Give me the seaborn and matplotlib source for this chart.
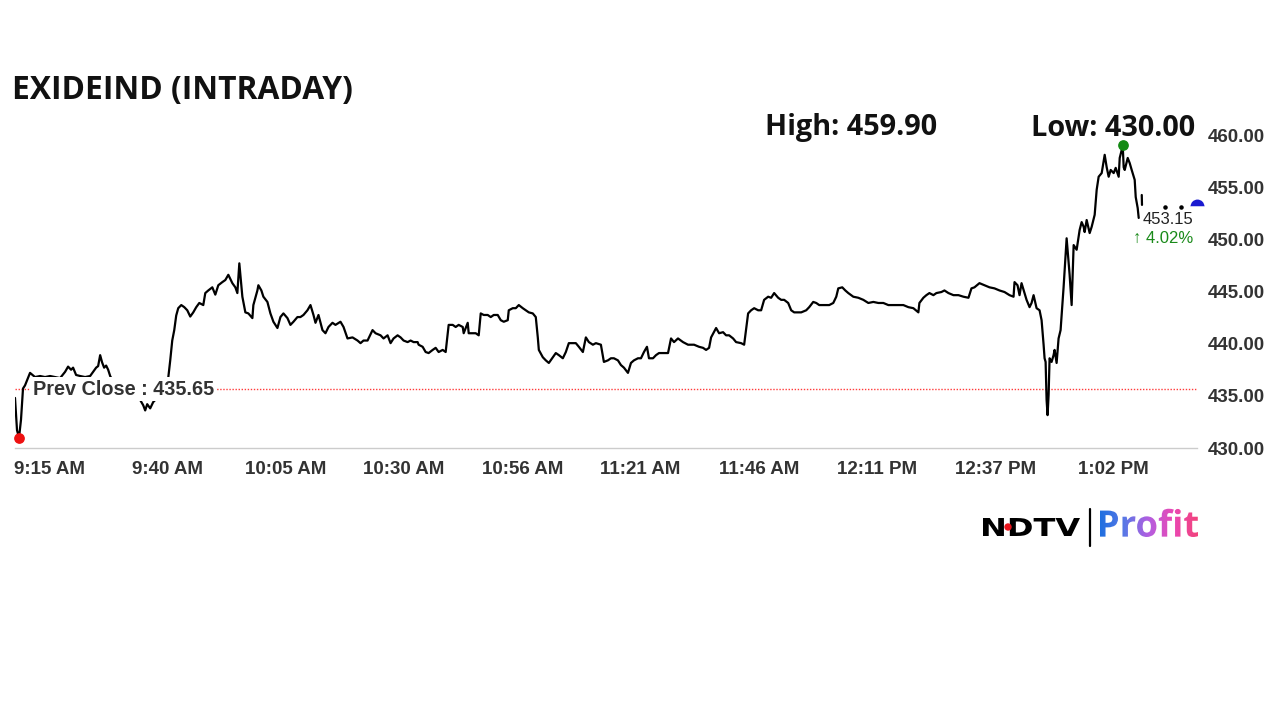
"""Intraday price chart of EXIDEIND, in the NDTV Profit style
"""

import matplotlib
matplotlib.use("Agg")
import matplotlib.pyplot as plt
from matplotlib.colors import LinearSegmentedColormap
from matplotlib.font_manager import FontProperties
from matplotlib.patches import PathPatch, Circle
from matplotlib.textpath import TextPath
from matplotlib.transforms import Affine2D
import numpy as np
import pandas as pd
import seaborn as sns

# minutes after 9:15 AM and traded price
minutes = [
    0.00, 0.43, 0.86, 1.28, 1.71, 2.14, 3.21, 4.28, 5.35, 6.42, 7.49, 8.56, 9.63, 10.70,
    11.34, 11.98, 12.41, 13.05, 13.91, 14.98, 16.05, 16.69, 17.33, 17.76, 18.19, 18.61,
    19.04, 19.47, 19.90, 20.33, 21.40, 22.46, 23.53, 24.60, 25.67, 26.74, 27.39, 27.81,
    28.24, 28.88, 29.52, 30.38, 31.02, 32.09, 32.73, 33.16, 33.59, 34.02, 34.44, 34.87,
    35.52, 36.16, 36.80, 37.44, 38.08, 38.72, 39.37, 40.22, 40.65, 41.29, 42.15, 42.79,
    43.43, 44.29, 44.93, 45.57, 46.43, 47.07, 47.50, 47.92, 48.57, 49.21, 49.85, 50.71,
    50.92, 51.78, 51.99, 52.63, 53.06, 53.92, 54.56, 55.20, 56.06, 56.70, 57.34, 58.20,
    58.84, 59.48, 60.33, 60.97, 61.62, 62.47, 63.12, 63.76, 64.19, 64.83, 65.68, 66.32,
    66.97, 67.82, 68.46, 69.53, 70.18, 71.03, 72.10, 73.17, 73.81, 74.45, 75.31, 76.38,
    77.02, 78.09, 78.73, 79.59, 80.23, 80.87, 81.73, 82.37, 83.01, 83.87, 84.51, 85.15,
    86.01, 86.22, 87.08, 87.72, 88.36, 89.22, 89.86, 90.50, 91.36, 92.00, 92.64, 93.50,
    94.14, 94.78, 95.64, 95.85, 96.28, 96.71, 96.92, 97.78, 98.42, 99.06, 99.49, 100.13,
    100.98, 101.63, 102.27, 103.12, 103.77, 104.41, 105.26, 105.48, 106.33, 106.98, 107.62,
    108.47, 109.11, 109.76, 110.61, 111.25, 111.68, 111.90, 112.75, 113.39, 114.04, 114.89,
    115.53, 116.18, 117.03, 117.67, 118.31, 119.17, 119.81, 120.45, 121.31, 121.95, 122.59,
    123.45, 124.09, 125.16, 125.80, 126.66, 127.30, 127.94, 128.80, 129.44, 130.08, 130.94,
    131.58, 132.22, 133.08, 133.72, 134.36, 135.00, 135.43, 136.29, 136.93, 137.57, 138.64,
    139.50, 140.14, 140.78, 141.63, 142.70, 143.77, 145.06, 146.13, 146.98, 147.63, 148.27,
    148.70, 149.77, 150.41, 151.26, 151.90, 152.55, 153.40, 154.04, 155.11, 155.76, 156.61,
    157.25, 157.90, 158.75, 159.39, 160.03, 160.89, 161.53, 162.17, 163.03, 163.67, 164.31,
    165.17, 165.81, 166.45, 167.31, 167.95, 169.02, 169.66, 170.52, 171.16, 171.80, 172.87,
    173.94, 174.80, 175.44, 175.87, 176.72, 177.37, 178.01, 179.08, 180.15, 181.22, 182.29,
    183.36, 184.43, 185.50, 186.56, 187.63, 188.70, 189.77, 190.84, 191.91, 192.98, 193.20,
    194.05, 194.69, 195.34, 196.19, 196.83, 197.90, 198.55, 199.40, 200.47, 201.54, 202.61,
    203.68, 204.32, 204.96, 206.03, 207.10, 208.17, 209.24, 210.31, 211.38, 212.45, 213.31,
    213.52, 214.16, 214.59, 215.02, 215.66, 216.09, 216.73, 217.16, 217.59, 218.23, 218.87,
    219.30, 219.73, 219.94, 220.16, 220.37, 220.58, 220.80, 221.01, 221.44, 221.86, 222.08,
    222.51, 222.93, 223.36, 224.00, 224.65, 225.29, 225.72, 226.15, 226.79, 227.43, 227.86,
    228.29, 228.50, 228.93, 229.57, 230.00, 230.64, 231.07, 231.49, 232.14, 232.78, 233.21,
    233.63, 234.06, 234.70, 235.13, 235.77, 235.99, 236.41, 236.63, 236.84, 237.06, 237.70,
    238.13, 238.55, 239.19, 239.41, 239.83, 240.05,
]
prices = [
    434.8, 431.7, 431.0, 432.7, 435.7, 436.0, 437.2, 436.8, 436.9, 436.8, 436.9, 436.8, 436.7, 437.3,
    437.8, 437.5, 437.7, 437.0, 436.9, 436.8, 436.9, 437.3, 437.7, 437.85, 438.9, 438.2,
    437.7, 437.9, 437.5, 436.9, 436.0, 435.5, 435.1, 434.8, 434.8, 434.6, 434.1, 433.6,
    434.2, 433.8, 434.4, 434.8, 435.1, 435.5, 436.7, 438.4, 440.3, 441.3, 442.7, 443.4,
    443.7, 443.5, 443.2, 442.6, 443.0, 443.5, 443.9, 443.7, 444.85, 445.1, 445.4, 444.7,
    445.6, 445.9, 446.1, 446.6, 445.8, 445.4, 444.85, 447.7, 444.5, 443.0, 442.9, 442.45,
    443.7, 445.1, 445.6, 445.1, 444.5, 444.0, 442.9, 442.1, 441.5, 442.55, 442.9, 442.45,
    441.8, 442.1, 442.55, 442.55, 442.75, 443.2, 443.7, 442.75, 442.0, 442.75, 441.3, 441.0,
    441.6, 442.0, 441.8, 442.1, 441.6, 440.5, 440.6, 440.3, 440.05, 440.3, 440.3, 441.3,
    441.0, 440.8, 440.5, 440.8, 440.05, 440.5, 440.8, 440.6, 440.3, 440.15, 440.3, 440.15,
    440.15, 439.9, 439.7, 439.2, 439.1, 439.4, 439.6, 439.2, 439.4, 439.2, 441.8, 441.8,
    441.6, 441.8, 441.6, 441.0, 441.5, 442.0, 441.0, 441.0, 441.0, 440.8, 442.9, 442.75,
    442.75, 442.55, 442.75, 442.75, 442.25, 442.1, 442.25, 443.2, 443.4, 443.4, 443.7,
    443.4, 443.2, 443.0, 442.9, 442.55, 440.6, 439.4, 438.7, 438.4, 438.15, 438.7,
    439.1, 438.9, 438.6, 439.2, 440.05, 440.05, 440.05, 439.7, 439.2, 440.6, 440.15,
    439.9, 440.05, 439.9, 438.25, 438.4, 438.6, 438.6, 438.4, 437.95, 437.7, 437.2,
    438.15, 438.4, 438.6, 438.6, 439.2, 439.7, 438.6, 438.6, 438.9, 439.1, 439.1,
    439.1, 440.5, 440.15, 440.5, 440.15, 439.9, 439.9, 439.7, 439.6, 439.4, 439.6,
    440.6, 441.5, 441.0, 441.1, 440.8, 440.8, 440.5, 440.15, 440.05, 439.9, 442.9,
    443.2, 443.4, 443.2, 443.2, 444.2, 444.5, 444.4, 444.85, 444.4, 444.2, 444.2,
    443.9, 443.2, 443.0, 443.0, 443.0, 443.2, 443.5, 444.0, 443.9, 443.7, 443.7,
    443.7, 443.9, 444.5, 445.3, 445.4, 445.1, 444.85, 444.5, 444.4, 444.2, 443.9,
    444.0, 443.9, 443.9, 443.7, 443.7, 443.7, 443.7, 443.5, 443.4, 443.0, 443.9,
    444.4, 444.65, 444.85, 444.65, 444.85, 444.95, 445.1, 444.85, 444.65, 444.65, 444.5,
    444.4, 445.3, 445.4, 445.8, 445.6, 445.4, 445.3, 445.1, 444.95, 444.65, 444.5,
    445.9, 445.6, 444.65, 445.8, 444.85, 444.2, 443.5, 443.9, 444.65, 443.4, 443.2,
    442.25, 439.9, 438.6, 438.25, 434.6, 433.15, 435.1, 438.6, 438.25, 438.9, 439.4,
    438.15, 440.5, 441.3, 445.4, 450.1, 446.6, 443.7, 449.45, 449.0, 450.9, 451.65,
    451.2, 450.7, 451.85, 450.6, 451.2, 452.35, 454.75, 456.0, 456.35, 458.1, 456.9,
    456.0, 456.65, 456.35, 456.85, 456.0, 457.8, 458.55, 459.0, 456.9, 456.65, 457.8,
    457.3, 456.65, 455.7, 454.05, 453.0, 452.05,
]
# sparse ticks after the main run
tail_seg_minutes = [240.70, 240.75]
tail_seg_prices = [454.25, 453.3]
tail_dot_minutes = [245.6, 249.0]
tail_dot_prices = [453.1, 453.1]

prev_close = 435.65
last_price = 453.15
change_pct = 4.02
title = "EXIDEIND (INTRADAY)"
high_text = "High: 459.90"
low_text = "Low: 430.00"

y_ticks = [430, 435, 440, 445, 450, 455, 460]
x_tick_labels = ["9:15 AM", "9:40 AM", "10:05 AM", "10:30 AM", "10:56 AM", "11:21 AM",
                 "11:46 AM", "12:11 PM", "12:37 PM", "1:02 PM"]
tick_step = 25.25
n_ticks = 11

df = pd.DataFrame({"minute": minutes, "price": prices})

sns.set_style("white")
plt.rcParams["font.family"] = ["Liberation Sans", "DejaVu Sans"]

fig = plt.figure(figsize=(12.8, 7.2), dpi=100)
ax = fig.add_axes([15 / 1280, 272 / 720, 1182 / 1280, 313 / 720])

sns.lineplot(data=df, x="minute", y="price", ax=ax, color="black", lw=1.6,
             estimator=None, sort=False)
ax.plot(tail_seg_minutes, tail_seg_prices, color="black", lw=1.6)
ax.scatter(tail_dot_minutes, tail_dot_prices, s=5, color="black", zorder=3)

ax.axhline(prev_close, color="#ff3b3b", lw=1.0, ls=(0, (1, 1.2)), zorder=1)
ax.text(3.8, prev_close, f"Prev Close : {prev_close:.2f}", fontsize=14.3, fontweight="bold",
        color="#333333", ha="left", va="center", zorder=5,
        bbox=dict(fc="white", ec="none", pad=2))

# low / high / last markers
lo = df["price"].idxmin()
hi = df["price"].idxmax()
ax.scatter(df["minute"][lo], df["price"][lo], s=45, color="#ee1111", zorder=6, clip_on=False)
ax.scatter(df["minute"][hi], df["price"][hi], s=45, color="#138a13", zorder=6, clip_on=False)
xmax = tick_step * (n_ticks - 1)
ax.plot(xmax, last_price, marker="o", ms=10, fillstyle="top", mfc="#1a1ad0",
        markerfacecoloralt="white", mec="none", clip_on=False, zorder=6)

ax.set_xlim(0, xmax)
ax.set_ylim(430, 460)
ax.set_xlabel("")
ax.set_ylabel("")
# tick marks on the major ticks, the labels sit a little to the right of them
ax.set_xticks([i * tick_step for i in range(n_ticks)])
ax.set_xticklabels([""] * n_ticks)
label_offset = 7.37
ax.set_xticks([i * tick_step + label_offset for i in range(len(x_tick_labels))], minor=True)
ax.set_xticklabels(x_tick_labels, minor=True, fontweight="bold")
ax.yaxis.tick_right()
ax.set_yticks(y_ticks)
ax.set_yticklabels([f"{v:.2f}" for v in y_ticks], fontweight="bold")
ax.tick_params(axis="x", which="major", length=5, width=1, color="#cccccc")
ax.tick_params(axis="x", which="minor", length=0, pad=9, labelsize=13.5, labelcolor="#333333")
ax.tick_params(axis="y", length=0, pad=8, labelsize=13.5, labelcolor="#333333")
for s in ["top", "left", "right"]:
    ax.spines[s].set_visible(False)
ax.spines["bottom"].set_color("#cccccc")
ax.spines["bottom"].set_linewidth(1)

# texts around the chart
fig.text(12 / 1280, 1 - 91 / 720, title, fontsize=22.9, fontweight="bold",
         family=["Open Sans", "DejaVu Sans"], color="#111111", ha="left", va="center")
fig.text(937 / 1280, 1 - 128 / 720, high_text, fontsize=20.8, fontweight="bold",
         family=["Open Sans", "DejaVu Sans"], color="#111111", ha="right", va="center")
fig.text(1195 / 1280, 1 - 128 / 720, low_text, fontsize=20.8, fontweight="bold",
         family=["Open Sans", "DejaVu Sans"], color="#111111", ha="right", va="center")
fig.text(1193 / 1280, 1 - 219 / 720, f"{last_price:.2f}", fontsize=12, color="#222222",
         ha="right", va="center")
fig.text(1193 / 1280, 1 - 238 / 720, f"\u2191 {change_pct:.2f}%", fontsize=12,
         color="#1a8a1a", ha="right", va="center")

# NDTV | Profit logo, drawn in pixel space
lax = fig.add_axes([0, 0, 1, 1])
lax.axis("off")
lax.patch.set_visible(False)

tp = TextPath((0, 0), "NDTV", size=100, prop=FontProperties(family="DejaVu Sans", weight="bold"))
ext = tp.get_extents()
tr = Affine2D().translate(-ext.x0, -ext.y0).scale(97 / ext.width, 18 / ext.height).translate(983, 184)
lax.add_patch(PathPatch(tr.transform_path(tp), fc="black", ec="none"))
lax.add_patch(Circle((1008, 193), 3, color="#e8141c"))
lax.plot([1090, 1090], [174, 211], color="black", lw=1.6)

tp2 = TextPath((0, 0), "Profit", size=100, prop=FontProperties(family="Open Sans", weight="bold"))
ext2 = tp2.get_extents()
sc = 98 / ext2.width
tr2 = Affine2D().translate(-ext2.x0, -ext2.y0).scale(sc, sc).translate(1100, 183)
prof = PathPatch(tr2.transform_path(tp2), fc="none", ec="none")
lax.add_patch(prof)
grad = LinearSegmentedColormap.from_list("prof", ["#1f6fe0", "#5a78e6", "#b45ee0", "#ea48b4", "#f2437c"])
im = lax.imshow(np.linspace(0, 1, 256).reshape(1, -1), cmap=grad, aspect="auto",
                extent=(1100, 1198, 178, 216), zorder=3)
im.set_clip_path(prof)
lax.set_xlim(0, 1280)
lax.set_ylim(0, 720)

plt.savefig("out.png", dpi=100)
